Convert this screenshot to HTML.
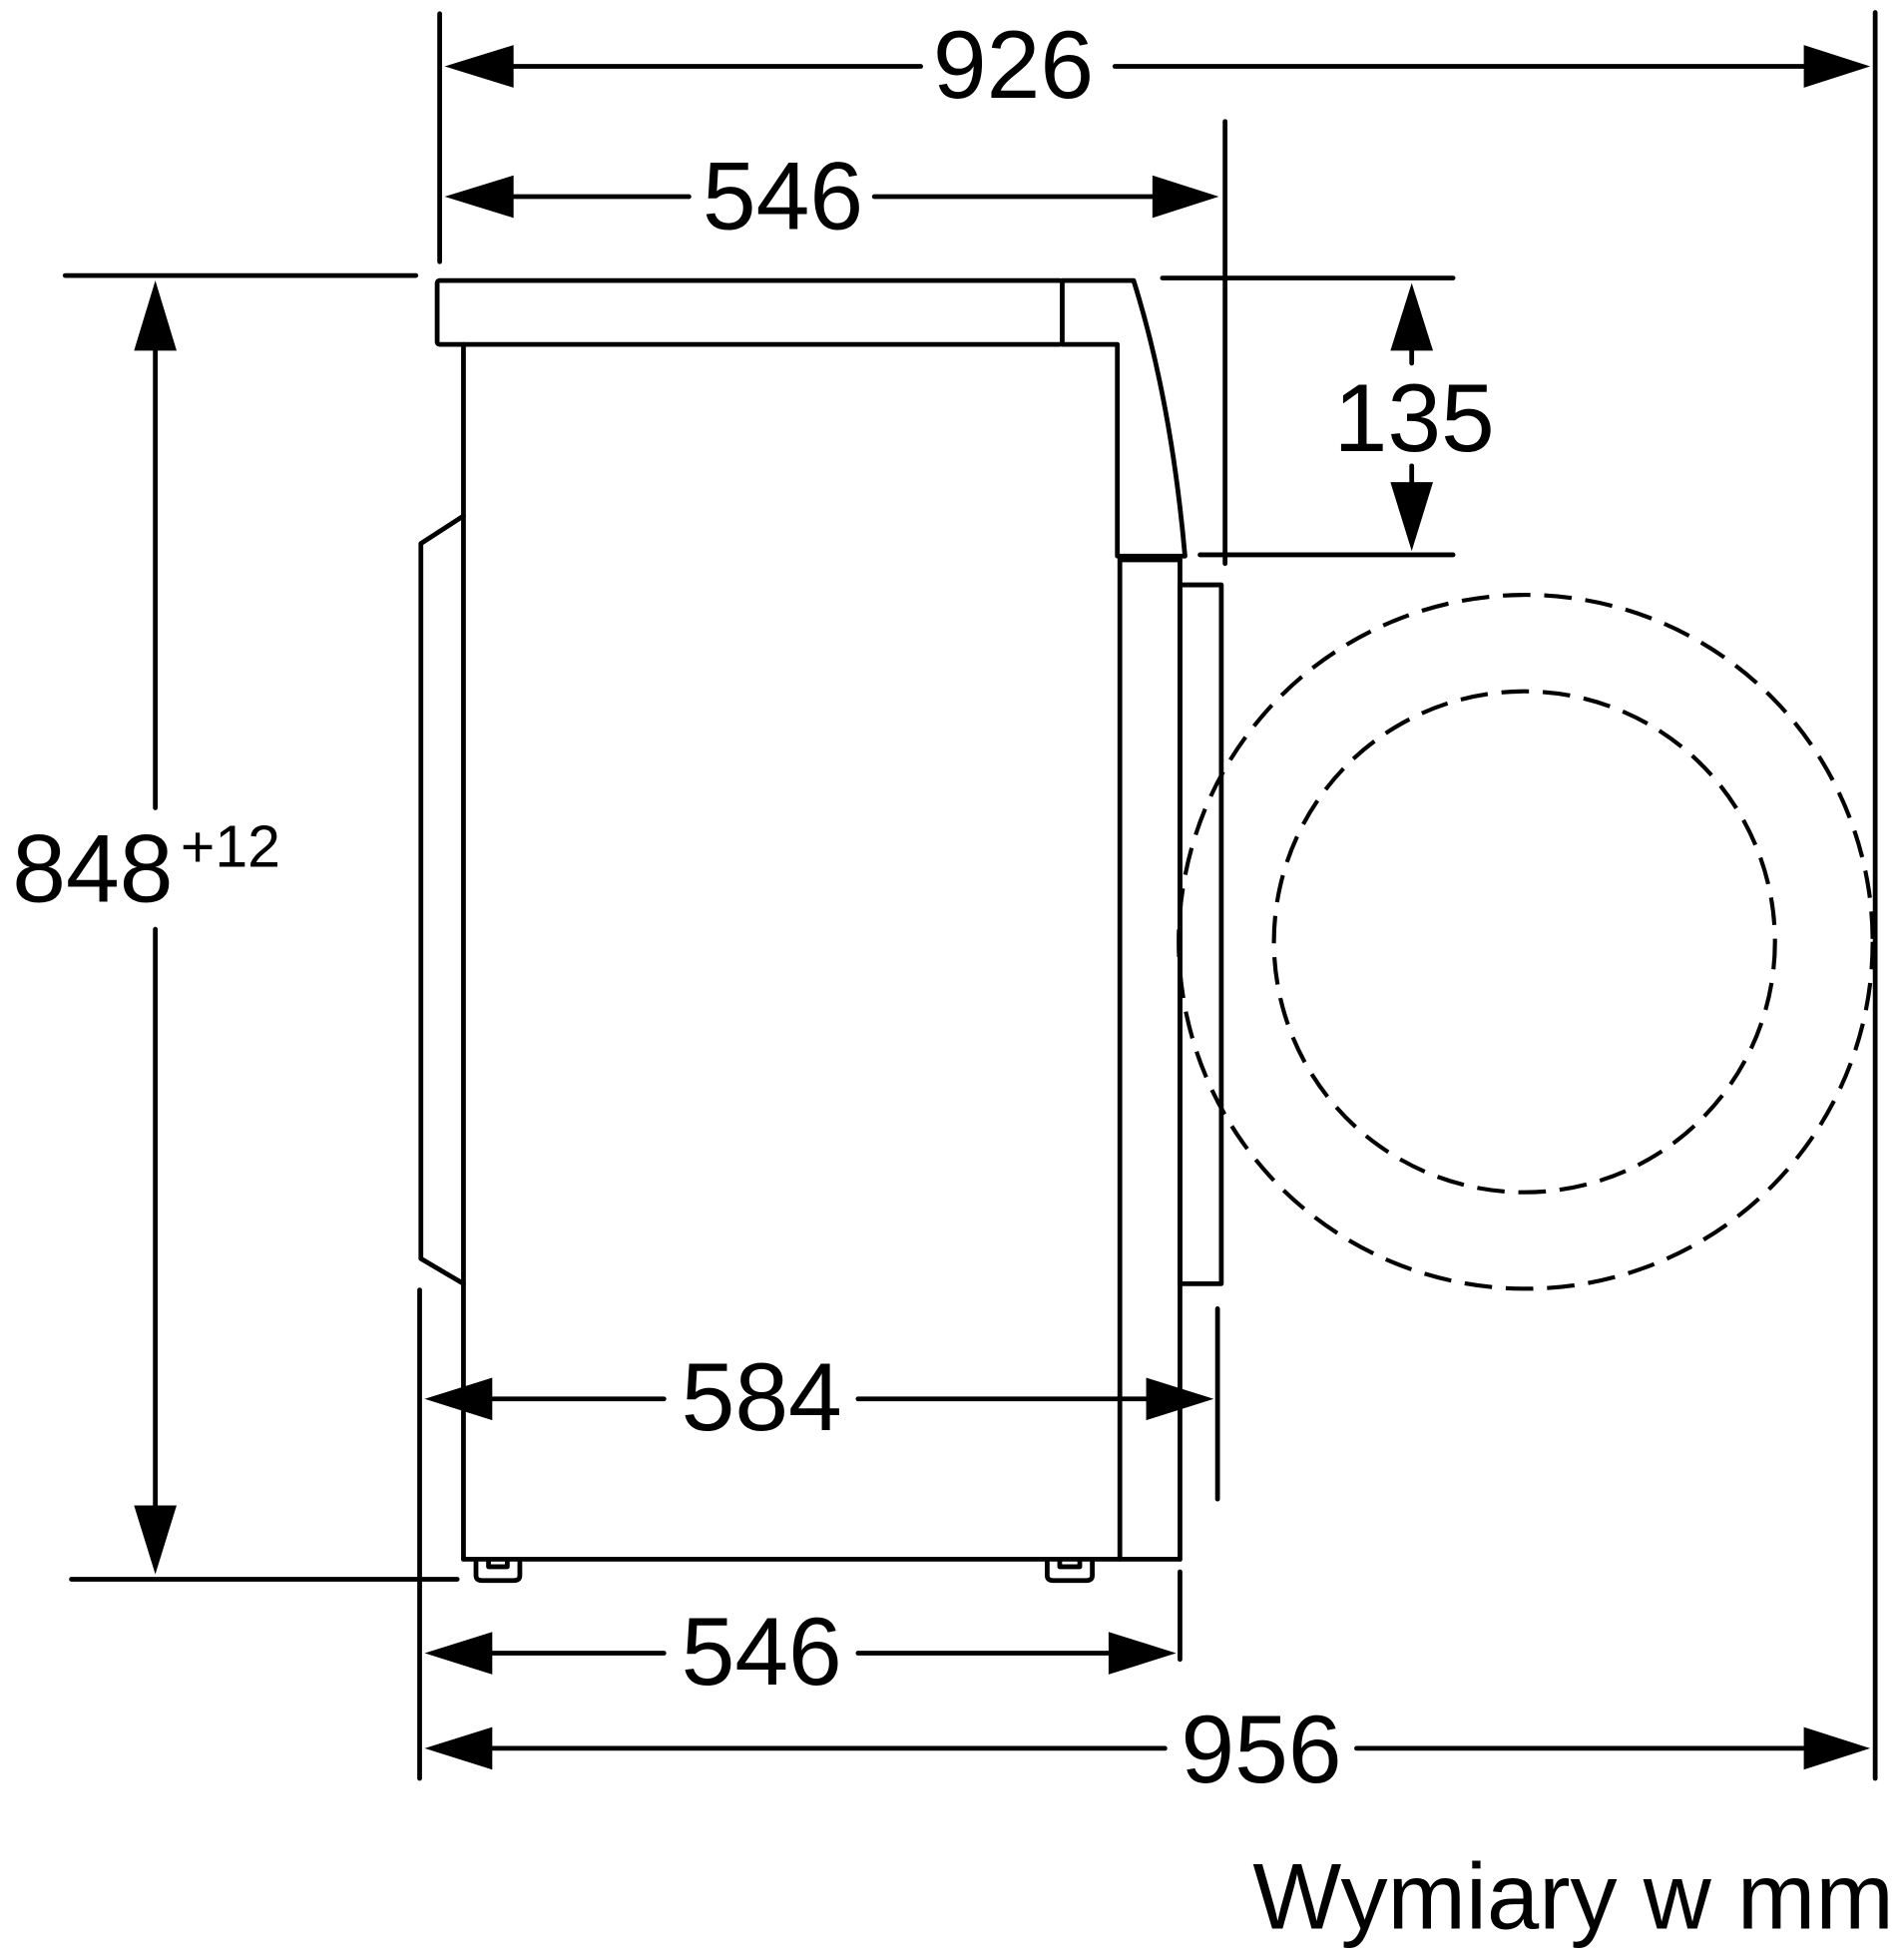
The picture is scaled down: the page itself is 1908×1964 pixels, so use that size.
<!DOCTYPE html>
<html><head><meta charset="utf-8"><style>html,body{margin:0;padding:0;background:#fff}svg{display:block}</style></head>
<body>
<svg width="1908" height="1964" viewBox="0 0 1520 1565" preserveAspectRatio="none" xmlns="http://www.w3.org/2000/svg">
<g stroke="#000" stroke-width="3.8" fill="none" stroke-linecap="round" stroke-linejoin="round">
<line x1="351" y1="11" x2="351" y2="209"/>
<line x1="1497" y1="10" x2="1497" y2="1420"/>
<line x1="978" y1="97" x2="978" y2="450"/>
<line x1="52" y1="220" x2="332" y2="220"/>
<line x1="57" y1="1261" x2="365" y2="1261"/>
<line x1="928" y1="222" x2="1160" y2="222"/>
<line x1="958" y1="443" x2="1160" y2="443"/>
<line x1="972" y1="1045" x2="972" y2="1197"/>
<line x1="335" y1="1030" x2="335" y2="1420"/>
<line x1="942" y1="1255" x2="942" y2="1325"/>
<line x1="400" y1="53" x2="735" y2="53"/><line x1="890" y1="53" x2="1450" y2="53"/>
<line x1="400" y1="157" x2="550" y2="157"/><line x1="698" y1="157" x2="930" y2="157"/>
<line x1="124" y1="270" x2="124" y2="645"/><line x1="124" y1="742" x2="124" y2="1210"/>
<line x1="1127" y1="270" x2="1127" y2="290"/><line x1="1127" y1="372" x2="1127" y2="395"/>
<line x1="385" y1="1117" x2="530" y2="1117"/><line x1="685" y1="1117" x2="925" y2="1117"/>
<line x1="385" y1="1320" x2="530" y2="1320"/><line x1="685" y1="1320" x2="895" y2="1320"/>
<line x1="385" y1="1396" x2="930" y2="1396"/><line x1="1083" y1="1396" x2="1450" y2="1396"/>
<rect x="349" y="224" width="499" height="51" rx="2"/>
<path d="M848 224 L905 224 Q935 320 946 444 L892 444 L892 275 L848 275"/>
<line x1="370" y1="275" x2="370" y2="1245"/>
<line x1="370" y1="1245" x2="942" y2="1245"/>
<line x1="894" y1="447" x2="894" y2="1245"/>
<line x1="942" y1="447" x2="942" y2="1245"/>
<line x1="894" y1="447" x2="942" y2="447"/>
<path d="M370 412 L336 434 L336 1005 L370 1025"/>
<rect x="942" y="467" width="33" height="558"/>
<path d="M380 1245 L380 1258 Q380 1262 385 1262 L410 1262 Q415 1262 415 1258 L415 1245 M390 1245 L390 1251 L405 1251 L405 1245"/>
<path d="M836 1245 L836 1258 Q836 1262 841 1262 L867 1262 Q872 1262 872 1258 L872 1245 M846 1245 L846 1251 L862 1251 L862 1245"/>
</g>
<g stroke="#000" stroke-width="3.3" fill="none" stroke-dasharray="22 11">
<circle cx="1218" cy="752" r="277"/>
<circle cx="1217" cy="752" r="200"/>
</g>
<g fill="#000">
<polygon points="355,53 410,36 410,70"/><polygon points="1493,53 1440,36 1440,70"/>
<polygon points="355,157 410,140 410,174"/><polygon points="973,157 920,140 920,174"/>
<polygon points="124,224 107,280 141,280"/><polygon points="124,1257 107,1202 141,1202"/>
<polygon points="1127,226 1110,280 1144,280"/><polygon points="1127,440 1110,385 1144,385"/>
<polygon points="339,1117 393,1100 393,1134"/><polygon points="969,1117 915,1100 915,1134"/>
<polygon points="339,1320 393,1303 393,1337"/><polygon points="939,1320 885,1303 885,1337"/>
<polygon points="339,1396 393,1379 393,1413"/><polygon points="1493,1396 1440,1379 1440,1413"/>
</g>
<g font-family="'Liberation Sans', sans-serif" font-size="77" fill="#000" text-anchor="middle">
<text x="809" y="78">926</text>
<text x="625" y="183">546</text>
<text x="1129" y="360">135</text>
<text x="608" y="1142">584</text>
<text x="608" y="1345">546</text>
<text x="1007" y="1423">956</text>
<text x="74" y="720">848</text>
<text x="184" y="692" font-size="47">+12</text>
<text x="1256" y="1540" font-size="75">Wymiary w mm</text>
</g>
</svg>
</body></html>
